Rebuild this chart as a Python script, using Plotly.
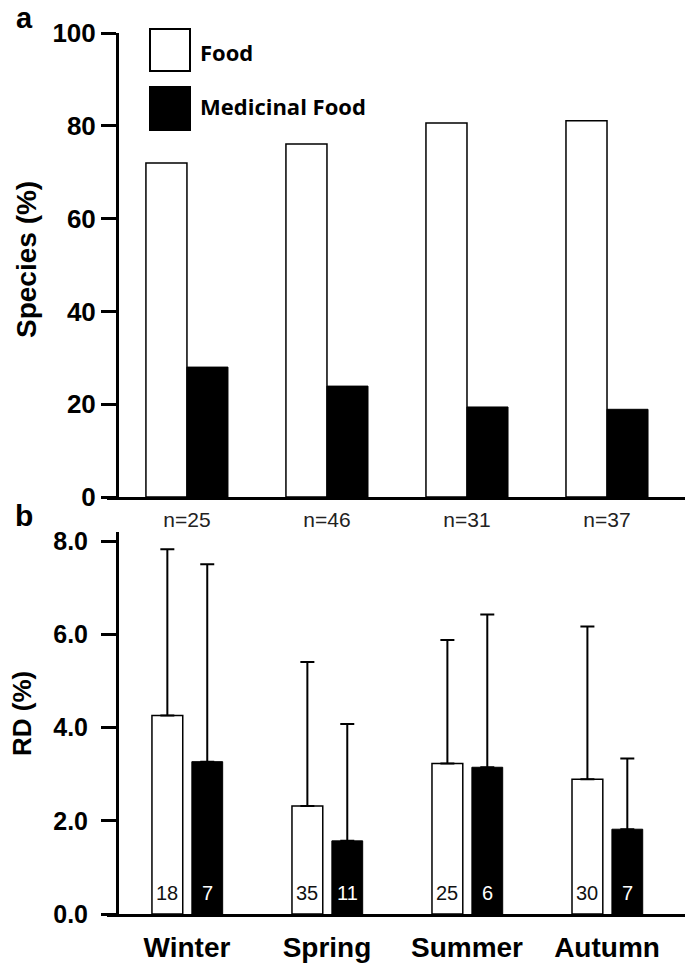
import plotly.graph_objects as go

# ---------------- data ----------------
seasons = ["Winter", "Spring", "Summer", "Autumn"]
n_labels = ["n=25", "n=46", "n=31", "n=37"]

food_pct = [72.0, 76.1, 80.6, 81.1]
medicinal_pct = [28.0, 23.9, 19.4, 18.9]

food_rd = [4.26, 2.32, 3.23, 2.89]
food_rd_sd = [3.57, 3.09, 2.65, 3.28]
med_rd = [3.27, 1.57, 3.15, 1.82]
med_rd_sd = [4.24, 2.51, 3.28, 1.52]

food_counts = [18, 35, 25, 30]
med_counts = [7, 11, 6, 7]

pct_ticks = [0, 20, 40, 60, 80, 100]
rd_ticks = [0, 2, 4, 6, 8]

# ---------------- geometry ----------------
W, H = 685, 967
def px(x):
    return x / W
def py(y):
    return 1 - y / H

ARIAL = "Liberation Sans, Arial, sans-serif"
OPEN = "Open Sans, sans-serif"

fig = go.Figure()

# Panel a
fig.add_trace(go.Bar(
    x=seasons, y=food_pct, xaxis="x", yaxis="y",
    width=0.293, offset=-0.293,
    marker=dict(color="white", line=dict(color="black", width=1.5)),
    showlegend=False, name="Food"))
fig.add_trace(go.Bar(
    x=seasons, y=medicinal_pct, xaxis="x", yaxis="y",
    width=0.293, offset=0.0,
    marker=dict(color="black", line=dict(color="black", width=1)),
    showlegend=False, name="Medicinal Food"))

# Panel b
fig.add_trace(go.Bar(
    x=seasons, y=food_rd, xaxis="x2", yaxis="y2",
    width=0.22, offset=-0.25,
    marker=dict(color="white", line=dict(color="black", width=1.5)),
    error_y=dict(type="data", symmetric=False, array=food_rd_sd,
                 arrayminus=[0] * len(food_rd_sd), color="black",
                 thickness=2, width=7),
    showlegend=False, name="Food"))
fig.add_trace(go.Bar(
    x=seasons, y=med_rd, xaxis="x2", yaxis="y2",
    width=0.22, offset=0.035,
    marker=dict(color="black", line=dict(color="black", width=1)),
    error_y=dict(type="data", symmetric=False, array=med_rd_sd,
                 arrayminus=[0] * len(med_rd_sd), color="black",
                 thickness=2, width=7),
    showlegend=False, name="Medicinal Food"))

xrange = [-0.571, 3.557]
xdom = [px(107), 1.0]
ypos = px(117)

axis_common = dict(showgrid=False, zeroline=False, showline=True,
                   linecolor="black", linewidth=3, automargin=False)

annotations = []
# counts inside the bars (panel b)
for i, s in enumerate(seasons):
    annotations.append(dict(x=i - 0.25 + 0.11, y=0.45, xref="x2", yref="y2",
                            text=str(food_counts[i]), showarrow=False,
                            font=dict(family=ARIAL, size=20, color="#111"),
                            xanchor="center", yanchor="middle"))
    annotations.append(dict(x=i + 0.035 + 0.11, y=0.45, xref="x2", yref="y2",
                            text=str(med_counts[i]), showarrow=False,
                            font=dict(family=ARIAL, size=20, color="white"),
                            xanchor="center", yanchor="middle"))

# panel letters and axis titles
annotations += [
    dict(x=px(25), y=1.0, xref="paper", yref="paper", text="<b>a</b>",
         showarrow=False, font=dict(family=ARIAL, size=29, color="black"),
         xanchor="center", yanchor="top"),
    dict(x=px(24), y=py(515), xref="paper", yref="paper", text="<b>b</b>",
         showarrow=False, font=dict(family=ARIAL, size=30, color="black"),
         xanchor="center", yanchor="middle"),
    dict(x=px(26), y=py(260), xref="paper", yref="paper", text="<b>Species (%)</b>",
         showarrow=False, textangle=-90,
         font=dict(family=ARIAL, size=28, color="black"),
         xanchor="center", yanchor="middle"),
    dict(x=px(22), y=py(714), xref="paper", yref="paper", text="<b>RD (%)</b>",
         showarrow=False, textangle=-90,
         font=dict(family=ARIAL, size=26, color="black"),
         xanchor="center", yanchor="middle"),
    dict(x=px(198), y=py(52), xref="paper", yref="paper", text="<b>Food</b>",
         showarrow=False, font=dict(family=OPEN, size=22, color="black"),
         xanchor="left", yanchor="middle"),
    dict(x=px(198), y=py(106), xref="paper", yref="paper", text="<b>Medicinal Food</b>",
         showarrow=False, font=dict(family=OPEN, size=22, color="black"),
         xanchor="left", yanchor="middle"),
]

shapes = [
    dict(type="rect", xref="paper", yref="paper",
         x0=px(150), x1=px(190), y0=py(71), y1=py(29),
         fillcolor="white", line=dict(color="black", width=2)),
    dict(type="rect", xref="paper", yref="paper",
         x0=px(150), x1=px(190), y0=py(130), y1=py(87),
         fillcolor="black", line=dict(color="black", width=2)),
]

fig.update_layout(
    width=W, height=H,
    margin=dict(l=0, r=0, t=0, b=0, autoexpand=False),
    paper_bgcolor="white", plot_bgcolor="white",
    barmode="group",
    xaxis=dict(domain=xdom, anchor="y", type="category", range=xrange,
               ticks="", tickmode="array", tickvals=seasons, ticktext=n_labels,
               tickfont=dict(family=ARIAL, size=21, color="#222"),
               ticklabelstandoff=2,
               **axis_common),
    yaxis=dict(domain=[py(497), py(33)], anchor="free", position=ypos,
               range=[0, 100], tickmode="array", tickvals=pct_ticks,
               ticktext=["<b>%d</b>" % v for v in pct_ticks],
               ticks="outside", ticklen=15, tickwidth=3, tickcolor="black",
               tickfont=dict(family=ARIAL, size=26, color="black"),
               **axis_common),
    xaxis2=dict(domain=xdom, anchor="y2", type="category", range=xrange,
                ticks="", tickmode="array", tickvals=seasons,
                ticktext=["<b>%s</b>" % s for s in seasons],
                tickfont=dict(family=ARIAL, size=28, color="black"),
                ticklabelstandoff=6,
                **axis_common),
    yaxis2=dict(domain=[py(914), py(532)], anchor="free", position=ypos,
                range=[0, 8.2], tickmode="array", tickvals=rd_ticks,
                ticktext=["<b>%.1f</b>" % v for v in rd_ticks],
                ticks="outside", ticklen=15, tickwidth=3, tickcolor="black",
                tickfont=dict(family=ARIAL, size=25, color="black"),
                ticklabelstandoff=8,
                **axis_common),
    annotations=annotations,
    shapes=shapes,
)

fig.write_html("out.html", config={"displayModeBar": False},
               post_script="document.body.style.margin='0px';")
